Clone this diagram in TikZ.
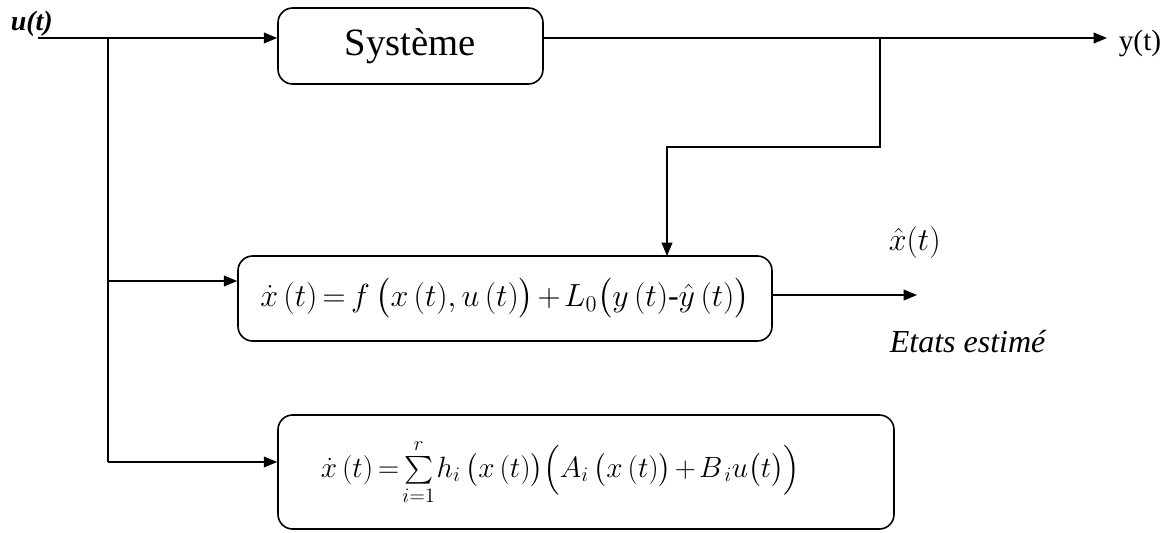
\RequirePackage{fix-cm}
\documentclass[tikz,border=0pt]{standalone}
\usepackage{amsmath}
\usepackage{fontspec}
\setmainfont{Liberation Serif}
\usetikzlibrary{arrows.meta}
\begin{document}
\begin{tikzpicture}[x=0.75pt,y=-0.75pt,
  line width=1.2pt,
  box/.style={draw, rounded corners=11pt, inner sep=0pt},
  arr/.style={-{Triangle[length=10pt,width=8pt]}},
  lbl/.style={inner sep=0pt, anchor=base west}]
\useasboundingbox (0,0) rectangle (1173,532);

% blocks
\node[box, minimum width=265*0.75pt, minimum height=76*0.75pt] (sys) at (410.5,46)
  {\fontsize{29}{32}\selectfont Système};
\node[box, minimum width=534*0.75pt, minimum height=85*0.75pt] (obs) at (505,298.5)
  {\fontsize{24}{28}\selectfont $\dot{x}\,(t)\mskip-2mu=\mskip-2mu f\,\big(x\,(t),u\,(t)\big)\mskip-2mu+\mskip-2mu L_0\big(y\,(t)\text{-}\hat{y}\,(t)\big)$};
\node[box, minimum width=616*0.75pt, minimum height=114*0.75pt] (mdl) at (586,472)
  {\fontsize{22}{26}\selectfont $\dot{x}\,(t)\mskip-2mu=\mskip-3mu\sum\limits_{i=1}^{r}\mskip-2mu h_i\,\big(x\,(t)\big)\Big(A_i\,\big(x\,(t)\big)\mskip-2mu+\mskip-2mu B_{\,i}u\big(t\big)\Big)$\hspace*{38pt}};

% labels
\node[lbl] (ul) at (10,30) {\fontsize{21}{24}\selectfont\bfseries\itshape u(t)};
\node[lbl] (yl) at (1118,50) {\fontsize{22}{24}\selectfont y(t)};
\node[lbl] (xh) at (888,250) {\fontsize{24}{26}\selectfont $\hat{x}(t)$};
\node[lbl] (est) at (889,352) {\fontsize{24}{26}\selectfont\itshape Etats estimé};

% coordinates
\coordinate (u) at (38,38);
\coordinate (v0) at (108,38);
\coordinate (v2) at (108,281);
\coordinate (v1) at (108,462);
\coordinate (yend) at (1107,38);
\coordinate (b1) at (880,38);
\coordinate (b2) at (880,147);
\coordinate (fb) at (667,256);
\coordinate (xo) at (917,295);

% connectors
\draw[arr] (u) -- (u -| sys.west);
\draw[arr] (sys.east |- yend) -- (yend);
\draw[arr] (b1) -- (b2) -| (fb);
\draw (v0) -- (v1);
\draw[arr] (v2) -- (v2 -| obs.west);
\draw[arr] (v1) -- (v1 -| mdl.west);
\draw[arr] (xo -| obs.east) -- (xo);
\end{tikzpicture}
\end{document}
